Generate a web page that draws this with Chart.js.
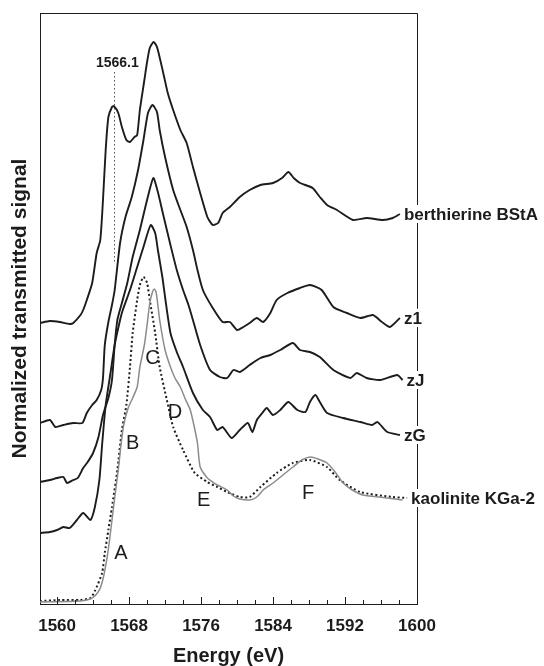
<!DOCTYPE html>
<html>
<head>
<meta charset="utf-8">
<script src="https://cdn.jsdelivr.net/npm/chart.js@4.4.1/dist/chart.umd.min.js"></script>
<style>
  html, body { margin: 0; padding: 0; background: #fff; }
  #wrap { width: 544px; height: 666px; }
</style>
</head>
<body>
<div id="wrap"><canvas id="xanes" width="544" height="666"></canvas></div>
<script>
// Al K-edge XANES, offset spectra (arbitrary units)
var seriesNames = ['berthierine BStA', 'z1', 'zJ', 'zG', 'kaolinite KGa-2'];

var berthierineE = [1558.1, 1559.2, 1560.3, 1561.4, 1561.8, 1562.6, 1562.9, 1563.3, 1563.9, 1564.4, 1564.8, 1565.1, 1565.4, 1565.7, 1566.1, 1566.3, 1566.8, 1567.2, 1567.7, 1568.1, 1568.6, 1568.9, 1569.2, 1569.7, 1570.0, 1570.3, 1570.7, 1571.0, 1571.2, 1571.8, 1572.3, 1572.9, 1573.7, 1574.4, 1575.1, 1575.9, 1576.7, 1577.3, 1577.9, 1578.4, 1579.2, 1580.3, 1581.4, 1582.6, 1584.0, 1585.0, 1585.7, 1586.3, 1587.0, 1588.4, 1589.2, 1590.0, 1591.1, 1592.9, 1594.4, 1596.2, 1597.3, 1598.1];
var berthierineI = [2.81, 2.83, 2.82, 2.80, 2.81, 2.89, 2.94, 3.04, 3.21, 3.51, 3.64, 4.04, 4.54, 4.87, 4.97, 4.98, 4.91, 4.77, 4.64, 4.62, 4.67, 4.69, 4.94, 5.24, 5.42, 5.56, 5.62, 5.59, 5.54, 5.31, 5.11, 4.94, 4.74, 4.61, 4.37, 4.11, 3.87, 3.79, 3.81, 3.91, 3.97, 4.07, 4.14, 4.19, 4.21, 4.26, 4.32, 4.26, 4.21, 4.16, 4.07, 3.99, 3.94, 3.84, 3.86, 3.84, 3.86, 3.90];

var z1E = [1558.1, 1559.2, 1559.8, 1560.7, 1561.8, 1562.8, 1563.3, 1563.9, 1564.4, 1564.9, 1565.1, 1565.3, 1565.7, 1566.1, 1566.4, 1567.0, 1567.6, 1568.3, 1569.0, 1569.6, 1570.1, 1570.6, 1571.1, 1571.4, 1572.0, 1572.9, 1573.7, 1574.4, 1575.1, 1575.6, 1576.2, 1577.3, 1578.4, 1579.2, 1580.0, 1580.7, 1581.4, 1582.2, 1582.9, 1583.7, 1584.4, 1585.6, 1587.0, 1588.1, 1589.4, 1590.7, 1592.2, 1593.7, 1595.1, 1596.1, 1597.0, 1598.1];
var z1I = [1.81, 1.84, 1.77, 1.79, 1.81, 1.81, 1.91, 1.99, 2.04, 2.14, 2.26, 2.59, 2.82, 2.99, 3.14, 3.61, 3.87, 4.07, 4.34, 4.64, 4.91, 4.99, 4.92, 4.74, 4.47, 4.14, 3.94, 3.77, 3.54, 3.34, 3.14, 2.96, 2.82, 2.82, 2.74, 2.77, 2.81, 2.86, 2.82, 2.91, 3.04, 3.11, 3.16, 3.19, 3.14, 2.97, 2.91, 2.86, 2.89, 2.82, 2.77, 2.86];

var zJE = [1558.1, 1559.2, 1560.0, 1560.7, 1561.1, 1561.8, 1562.3, 1562.9, 1563.4, 1564.0, 1564.6, 1565.1, 1565.7, 1566.1, 1566.4, 1566.7, 1567.2, 1567.8, 1568.4, 1569.2, 1570.0, 1570.7, 1571.2, 1571.8, 1572.6, 1573.3, 1574.0, 1574.6, 1575.0, 1575.9, 1577.0, 1578.1, 1578.9, 1579.6, 1580.3, 1581.4, 1582.6, 1583.7, 1584.8, 1586.2, 1587.0, 1588.1, 1589.2, 1590.7, 1592.6, 1593.3, 1594.4, 1595.9, 1597.8, 1598.4];
var zJI = [1.22, 1.24, 1.26, 1.27, 1.21, 1.24, 1.26, 1.36, 1.42, 1.51, 1.67, 1.89, 2.06, 2.24, 2.59, 2.84, 3.01, 3.21, 3.47, 3.74, 4.04, 4.26, 4.12, 3.89, 3.59, 3.34, 3.14, 2.99, 2.87, 2.59, 2.34, 2.27, 2.26, 2.34, 2.32, 2.39, 2.46, 2.49, 2.54, 2.61, 2.54, 2.52, 2.47, 2.34, 2.26, 2.31, 2.26, 2.24, 2.29, 2.24];

var zGE = [1558.1, 1559.2, 1560.0, 1560.7, 1561.4, 1562.2, 1562.9, 1563.7, 1564.2, 1564.7, 1565.0, 1565.4, 1565.9, 1566.4, 1567.0, 1567.3, 1568.1, 1568.9, 1569.6, 1570.4, 1570.9, 1571.2, 1571.7, 1572.0, 1572.6, 1573.3, 1574.0, 1575.1, 1576.2, 1577.0, 1577.8, 1578.4, 1579.4, 1580.3, 1581.2, 1581.7, 1582.2, 1582.8, 1583.3, 1584.0, 1584.8, 1585.7, 1586.7, 1587.6, 1588.1, 1588.7, 1589.2, 1590.0, 1591.8, 1593.7, 1595.0, 1595.6, 1596.7, 1598.1];
var zGI = [0.71, 0.72, 0.74, 0.77, 0.76, 0.84, 0.91, 0.84, 0.97, 1.24, 1.59, 1.99, 2.29, 2.59, 2.84, 2.94, 3.14, 3.37, 3.57, 3.79, 3.71, 3.54, 3.27, 3.07, 2.71, 2.52, 2.37, 2.11, 1.94, 1.87, 1.74, 1.77, 1.66, 1.74, 1.81, 1.72, 1.84, 1.91, 1.96, 1.89, 1.94, 2.02, 1.94, 1.92, 2.02, 2.09, 2.02, 1.91, 1.86, 1.82, 1.79, 1.82, 1.72, 1.69];

// kaolinite: dotted black and solid grey traces
var kaoDotE = [1558.1, 1560.3, 1562.6, 1563.7, 1564.2, 1565.0, 1565.3, 1565.7, 1566.1, 1566.7, 1567.2, 1567.7, 1568.1, 1568.4, 1568.9, 1569.2, 1569.6, 1570.0, 1570.3, 1570.9, 1571.4, 1572.2, 1572.9, 1574.0, 1575.3, 1576.7, 1577.8, 1578.9, 1580.3, 1581.4, 1582.6, 1584.4, 1586.2, 1588.1, 1590.0, 1591.4, 1593.7, 1597.3, 1598.9];
var kaoDotI = [0.03, 0.04, 0.04, 0.06, 0.13, 0.31, 0.51, 0.74, 0.97, 1.34, 1.74, 1.99, 2.37, 2.71, 3.04, 3.19, 3.27, 3.21, 3.04, 2.71, 2.37, 2.04, 1.77, 1.54, 1.31, 1.22, 1.17, 1.12, 1.07, 1.07, 1.17, 1.31, 1.41, 1.44, 1.37, 1.24, 1.12, 1.07, 1.06];

var kaoGreyE = [1558.1, 1562.6, 1563.7, 1564.3, 1564.8, 1565.2, 1565.6, 1565.9, 1566.3, 1566.8, 1567.1, 1567.4, 1567.9, 1568.4, 1568.9, 1569.2, 1569.7, 1570.0, 1570.3, 1570.6, 1570.8, 1571.0, 1571.2, 1571.4, 1572.0, 1572.6, 1573.1, 1573.7, 1574.2, 1574.8, 1575.2, 1575.6, 1575.9, 1576.7, 1577.8, 1578.9, 1579.6, 1580.3, 1581.4, 1582.2, 1582.9, 1584.0, 1585.1, 1586.2, 1587.2, 1588.1, 1589.0, 1590.0, 1590.9, 1591.8, 1592.8, 1594.0, 1596.7, 1598.4];
var kaoGreyI = [0.02, 0.03, 0.05, 0.09, 0.16, 0.29, 0.49, 0.69, 0.99, 1.34, 1.59, 1.79, 1.96, 2.06, 2.17, 2.37, 2.59, 2.79, 3.01, 3.12, 3.15, 3.12, 2.99, 2.84, 2.54, 2.37, 2.26, 2.17, 2.06, 1.94, 1.79, 1.61, 1.37, 1.26, 1.19, 1.14, 1.08, 1.05, 1.04, 1.07, 1.14, 1.21, 1.29, 1.37, 1.44, 1.47, 1.45, 1.41, 1.32, 1.21, 1.14, 1.09, 1.06, 1.04];

var energyTicks = [1560, 1562, 1564, 1566, 1568, 1570, 1572, 1574, 1576, 1578, 1580, 1582, 1584, 1586, 1588, 1590, 1592, 1594, 1596, 1598, 1600];
var majorTicks = [1560, 1568, 1576, 1584, 1592, 1600];

// feature letters and the 1566.1 marker
var featureLetters = ['A', 'B', 'C', 'D', 'E', 'F'];
var featureE = [1567.1, 1568.4, 1570.6, 1573.1, 1576.3, 1587.9];
var featureI = [0.51, 1.61, 2.46, 1.92, 1.04, 1.11];
var markerText = '1566.1';
var markerE = 1566.3;
var markerRange = [3.42, 5.32];

function pts(xs, ys) {
  return xs.map(function (x, i) { return { x: x, y: ys[i] }; });
}

var INK = '#1c1c1c';
var FONT = "'Liberation Sans', Arial, sans-serif";

var decorations = {
  id: 'decorations',
  afterDatasetsDraw: function (chart) {
    var ctx = chart.ctx;
    var xs = chart.scales.x, ys = chart.scales.y;
    var a = chart.chartArea;
    ctx.save();

    // top and right frame lines
    ctx.strokeStyle = INK;
    ctx.lineWidth = 1;
    ctx.beginPath();
    ctx.moveTo(a.left, a.top + 0.5);
    ctx.lineTo(a.right + 0.5, a.top + 0.5);
    ctx.lineTo(a.right + 0.5, a.bottom);
    ctx.stroke();

    // inward ticks on the energy axis
    energyTicks.forEach(function (v) {
      var px = Math.round(xs.getPixelForValue(v)) + 0.5;
      var len = majorTicks.indexOf(v) >= 0 ? 7 : 4;
      ctx.beginPath();
      ctx.moveTo(px, a.bottom);
      ctx.lineTo(px, a.bottom - len);
      ctx.stroke();
    });

    // dotted marker line
    var mx = Math.round(xs.getPixelForValue(markerE)) + 0.5;
    ctx.setLineDash([1.5, 2.5]);
    ctx.strokeStyle = '#555';
    ctx.beginPath();
    ctx.moveTo(mx, ys.getPixelForValue(markerRange[1]));
    ctx.lineTo(mx, ys.getPixelForValue(markerRange[0]));
    ctx.stroke();
    ctx.setLineDash([]);

    ctx.fillStyle = INK;
    ctx.font = 'bold 14px ' + FONT;
    ctx.textAlign = 'center';
    ctx.textBaseline = 'alphabetic';
    ctx.fillText(markerText, xs.getPixelForValue(1566.7), ys.getPixelForValue(markerRange[1]) - 5);

    // feature letters
    ctx.font = '20px ' + FONT;
    ctx.textBaseline = 'middle';
    featureLetters.forEach(function (t, i) {
      ctx.fillText(t, xs.getPixelForValue(featureE[i]), ys.getPixelForValue(featureI[i]));
    });

    // series names at the end of each trace
    var ends = [
      [berthierineE, berthierineI],
      [z1E, z1I],
      [zJE, zJI],
      [zGE, zGI],
      [kaoDotE, kaoDotI]
    ];
    ctx.font = 'bold 17px ' + FONT;
    ctx.textAlign = 'left';
    seriesNames.forEach(function (name, i) {
      var e = ends[i][0], s = ends[i][1];
      var px = xs.getPixelForValue(e[e.length - 1]) + 4;
      var py = ys.getPixelForValue(s[s.length - 1]);
      var w = ctx.measureText(name).width;
      ctx.fillStyle = '#fff';
      ctx.fillRect(px - 1, py - 9, w + 3, 18);
      ctx.fillStyle = INK;
      ctx.fillText(name, px, py + 1);
    });

    ctx.restore();
  }
};

function line(label, data, color, width, dash) {
  return {
    label: label,
    data: data,
    borderColor: color,
    borderWidth: width,
    borderDash: dash || [],
    pointRadius: 0,
    tension: 0.2,
    fill: false
  };
}

var ctx = document.getElementById('xanes').getContext('2d');
var chart = new Chart(ctx, {
  type: 'line',
  data: {
    datasets: [
      line(seriesNames[0], pts(berthierineE, berthierineI), INK, 1.9),
      line(seriesNames[1], pts(z1E, z1I), INK, 1.9),
      line(seriesNames[2], pts(zJE, zJI), INK, 1.9),
      line(seriesNames[3], pts(zGE, zGI), INK, 1.9),
      line(seriesNames[4] + ' (grey)', pts(kaoGreyE, kaoGreyI), '#8c8c8c', 1.5),
      line(seriesNames[4], pts(kaoDotE, kaoDotI), INK, 2, [2, 2.5])
    ]
  },
  options: {
    responsive: false,
    devicePixelRatio: 1,
    animation: false,
    layout: { padding: { top: 13, right: 127, left: 0, bottom: 0 } },
    plugins: { legend: { display: false }, tooltip: { enabled: false } },
    scales: {
      x: {
        type: 'linear',
        position: 'bottom',
        min: 1558.1,
        max: 1600,
        afterBuildTicks: function (scale) {
          scale.ticks = energyTicks.map(function (v) { return { value: v }; });
        },
        afterFit: function (scale) { scale.height = 62; },
        grid: { display: false, drawTicks: false },
        border: { display: true, color: INK, width: 1 },
        ticks: {
          autoSkip: false,
          maxRotation: 0,
          padding: 12,
          color: INK,
          font: { family: FONT, size: 17, weight: 'bold' },
          callback: function (v) { return majorTicks.indexOf(v) >= 0 ? String(v) : ''; }
        },
        title: {
          display: true,
          text: 'Energy (eV)',
          color: INK,
          font: { family: FONT, size: 20, weight: 'bold', lineHeight: 1 },
          padding: { top: 4, bottom: 0 }
        }
      },
      y: {
        type: 'linear',
        min: 0,
        max: 5.91,
        afterFit: function (scale) { scale.width = 40; },
        grid: { display: false, drawTicks: false },
        border: { display: true, color: INK, width: 1 },
        ticks: { display: false },
        title: {
          display: true,
          text: 'Normalized transmitted signal',
          color: INK,
          font: { family: FONT, size: 21, weight: 'bold', lineHeight: 1 },
          padding: { top: 10, bottom: 0 }
        }
      }
    }
  },
  plugins: [decorations]
});
</script>
</body>
</html>
